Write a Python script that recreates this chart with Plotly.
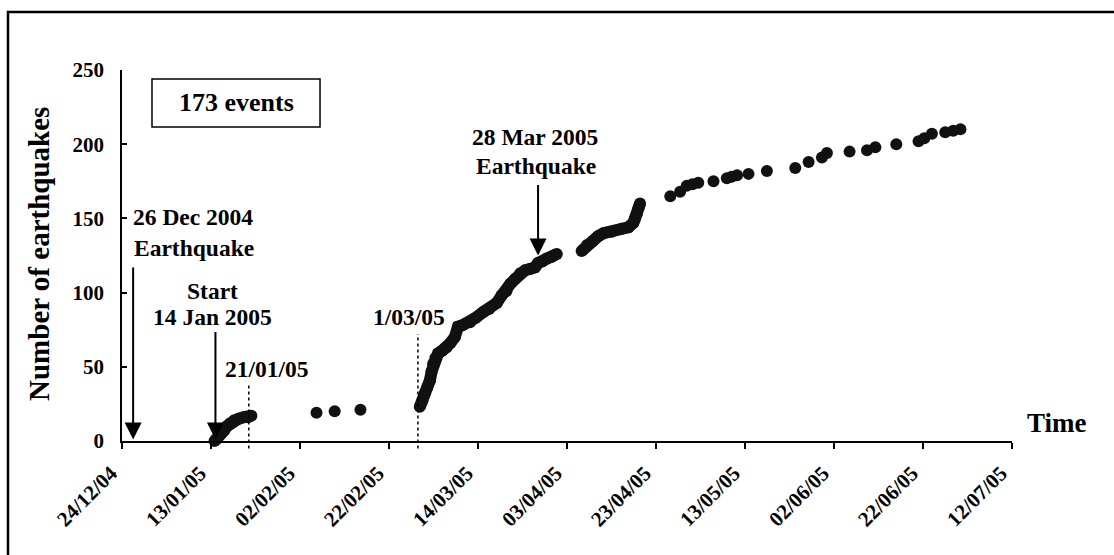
import plotly.graph_objects as go

# ---------------- data (cumulative number of earthquakes) -------------
jan_times = ["2005-01-13 19:00", "2005-01-14 05:00", "2005-01-14 17:00", "2005-01-15 07:00",
             "2005-01-15 22:00", "2005-01-16 14:00", "2005-01-17 07:00", "2005-01-18 05:00",
             "2005-01-19 05:00", "2005-01-20 07:00", "2005-01-21 07:00", "2005-01-22 02:00"]
jan_counts = [0, 1, 3, 5, 7, 10, 12, 14, 15, 16, 16, 17]

feb_times = ["2005-02-05 17:00", "2005-02-09 19:00", "2005-02-15 14:00"]
feb_counts = [19, 20, 21]

mar_times = ["2005-02-28 22:00", "2005-03-01 12:00", "2005-03-02 01:00", "2005-03-02 14:00",
             "2005-03-03 05:00", "2005-03-03 14:00", "2005-03-03 22:00", "2005-03-04 10:00",
             "2005-03-05 01:00", "2005-03-06 00:00", "2005-03-06 22:00", "2005-03-07 19:00",
             "2005-03-08 19:00", "2005-03-09 12:00", "2005-03-10 12:00", "2005-03-12 05:00",
             "2005-03-13 12:00", "2005-03-15 05:00", "2005-03-16 12:00", "2005-03-18 05:00",
             "2005-03-19 07:00", "2005-03-20 10:00", "2005-03-21 07:00", "2005-03-22 07:00",
             "2005-03-23 12:00", "2005-03-24 14:00", "2005-03-25 19:00", "2005-03-26 19:00",
             "2005-03-27 12:00", "2005-03-28 12:00", "2005-03-29 10:00", "2005-03-30 12:00",
             "2005-03-31 17:00"]
mar_counts = [23, 27, 32, 36, 41, 47, 52, 56, 59, 61, 63, 66, 70, 77, 78, 80, 83, 87, 89, 93,
              98, 101, 106, 109, 113, 115, 116, 117, 120, 121, 123, 124, 126]

apr_times = ["2005-04-06 07:00", "2005-04-07 12:00", "2005-04-08 22:00", "2005-04-10 00:00",
             "2005-04-11 05:00", "2005-04-13 00:00", "2005-04-15 07:00", "2005-04-16 19:00",
             "2005-04-17 22:00", "2005-04-18 07:00", "2005-04-18 17:00", "2005-04-19 02:00",
             "2005-04-19 10:00"]
apr_counts = [128, 132, 135, 138, 140, 141, 143, 144, 147, 150, 153, 157, 160]

late_times = ["2005-04-26 05:00", "2005-04-28 10:00", "2005-04-29 22:00", "2005-05-01 05:00",
              "2005-05-02 12:00", "2005-05-05 22:00", "2005-05-08 22:00", "2005-05-10 00:00",
              "2005-05-11 05:00", "2005-05-13 19:00", "2005-05-17 22:00", "2005-05-24 07:00",
              "2005-05-27 07:00", "2005-05-30 07:00", "2005-05-31 10:00", "2005-06-05 12:00",
              "2005-06-09 10:00", "2005-06-11 07:00", "2005-06-16 00:00", "2005-06-21 00:00",
              "2005-06-22 07:00", "2005-06-24 00:00", "2005-06-27 00:00", "2005-06-28 19:00",
              "2005-06-30 10:00"]
late_counts = [165, 168, 172, 173, 174, 175, 177, 178, 179, 180, 182, 184, 188, 191, 194,
               195, 196, 198, 200, 202, 204, 207, 208, 209, 210]

x_start, x_end = "2004-12-24", "2005-07-12"
y_ticks = [0, 50, 100, 150, 200, 250]

FONT = "Liberation Serif"
INK = "#111111"

# dense bursts drawn as a thick band of overlapping dots
dense_x, dense_y = [], []
for tt, cc in [(jan_times, jan_counts), (mar_times, mar_counts), (apr_times, apr_counts)]:
    dense_x += tt + [None]
    dense_y += cc + [None]

fig = go.Figure()
fig.add_trace(go.Scatter(x=dense_x, y=dense_y, mode="lines+markers", connectgaps=False,
                         line=dict(color=INK, width=12),
                         marker=dict(color=INK, size=12), cliponaxis=False,
                         showlegend=False))
fig.add_trace(go.Scatter(x=feb_times + late_times, y=feb_counts + late_counts, mode="markers",
                         marker=dict(color=INK, size=12), cliponaxis=False,
                         showlegend=False))

bold = dict(family=FONT, color="black", weight="bold")

fig.update_layout(
    width=1114, height=555,
    margin=dict(l=122, r=102, t=70, b=114),
    paper_bgcolor="white", plot_bgcolor="white",
    xaxis=dict(type="date", range=[x_start, x_end], tick0=x_start, dtick=20 * 86400000,
               tickformat="%d/%m/%y", tickangle=-45, ticks="outside", ticklen=6,
               tickwidth=1.5, tickcolor="black", showline=True, linecolor="black",
               linewidth=1.5, showgrid=False, zeroline=False,
               ticklabelshift=-11, ticklabelstandoff=4,
               tickfont=dict(size=21, **bold)),
    yaxis=dict(range=[0, 250], tickvals=y_ticks, ticks="inside", ticklen=5, tickwidth=1.5,
               tickcolor="black", showline=True, linecolor="black", linewidth=1.5,
               showgrid=False, zeroline=False, ticklabelstandoff=12,
               tickfont=dict(size=21, **bold)),
)

def txt(text, x, y, size=23.5, **kw):
    fig.add_annotation(text=text, x=x, y=y, xref="paper", yref="paper", showarrow=False,
                       font=dict(size=size, **bold), xanchor="center", yanchor="middle", **kw)

txt("26 Dec 2004", 0.0803, 0.6038)
txt("Earthquake", 0.0809, 0.5202)
txt("Start", 0.1022, 0.4051)
txt("14 Jan 2005", 0.1022, 0.3350)
txt("21/01/05", 0.1629, 0.1941)
txt("1/03/05", 0.3225, 0.3350)
txt("28 Mar 2005", 0.4635, 0.8194)
txt("Earthquake", 0.4657, 0.7412)
txt("173 events", 0.1281, 0.9111, size=26)
txt("Time", 1.0506, 0.0485, size=27)
txt("Number of earthquakes", -0.0933, 0.504, size=29, textangle=-90)

# arrows
for xa, ytail, yhead in [("2004-12-26 12:00", 118, 1), ("2005-01-14 00:00", 74.5, 1),
                         ("2005-03-27 12:00", 173.5, 125)]:
    fig.add_annotation(x=xa, y=yhead, ax=xa, ay=ytail, xref="x", yref="y", axref="x",
                       ayref="y", text="", showarrow=True, arrowhead=2, arrowsize=1.7,
                       arrowwidth=2, arrowcolor="black", standoff=0)

# dotted markers of dates
for xd, ytop in [("2005-01-21 12:00", 0.1496), ("2005-02-28 12:00", 0.2884)]:
    fig.add_shape(type="line", x0=xd, x1=xd, y0=-0.02, y1=ytop, xref="x", yref="paper",
                  line=dict(color="black", width=1.5, dash="dot"))

# box around "173 events"
fig.add_shape(type="rect", xref="paper", yref="paper", x0=0.0337, x1=0.2225, y0=0.8464,
              y1=0.9757, line=dict(color="black", width=1.5))
# outer frame
fig.add_shape(type="rect", xref="paper", yref="paper", x0=-0.1281, x1=1.2, y0=-0.6,
              y1=1.1563, line=dict(color="black", width=2.5))

fig.write_html("out.html")
